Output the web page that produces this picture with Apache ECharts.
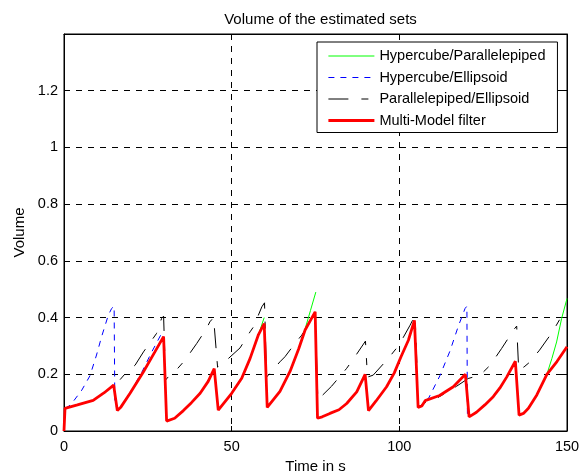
<!DOCTYPE html>
<html><head><meta charset="utf-8">
<script src="https://cdn.jsdelivr.net/npm/echarts@6/dist/echarts.min.js"></script>
<style>html,body{margin:0;padding:0;background:#fff}#c{width:580px;height:472px}</style>
</head><body><div id="c"></div>
<script>
// ---- data (time in s, volume) ----
const seriesNames = ['Hypercube/Parallelepiped', 'Hypercube/Ellipsoid', 'Parallelepiped/Ellipsoid', 'Multi-Model filter'];
const xTicks = [0, 50, 100, 150];
const yTicks = [0, 0.2, 0.4, 0.6, 0.8, 1, 1.2];

const tGreen = [55.5, 58, 59.7, null, 68.4, 70, 71.9, 73.5, 75.1, null, 141, 144, 145.5, 146.9, 148.4, 150];
const vGreen = [0.256, 0.34, 0.4, null, 0.238, 0.29, 0.36, 0.425, 0.49, null, 0.127, 0.2, 0.256, 0.314, 0.397, 0.467];

const tBlue = [0.3, 1.5, 2.3, 5.3, 7.75, 9.7, 11.2, 13.2, 14.2, 14.95, 15.15, 15.9, 17, 19.7, 23.2, 26, 29.1, 29.7, 30.6, null,
  105.6, 106.7, 107.7, 108.7, 112.1, 115.1, 117.6, 119.6, 120.15, 120.3, 120.8];
const vBlue = [0.08, 0.088, 0.097, 0.144, 0.195, 0.268, 0.332, 0.408, 0.432, 0.44, 0.105, 0.075, 0.088, 0.135, 0.207, 0.275, 0.344, 0.335, 0.035, null,
  0.083, 0.088, 0.107, 0.115, 0.195, 0.282, 0.37, 0.432, 0.44, 0.05, 0.05];

const tBlack = [0, 0.3, 8.7, 12, 14.8, 16.2, 19.2, 21.2, 23.7, 27.6, 29.1, 29.7, 30.3, 31.1, 32.6, 36.1, 39.6, 42.5, 43.5, 44.6, 45.8,
  48.5, 52.5, 55.5, 56.5, 59, 59.8, 60.4, 64.4, 65.9, 68.9, 70.9, 72, 74.9, 75.7, 79.8, 82.8, 84.3, 87.1, 89.9, 90.5, 92.2, 96.7,
  99.7, 100.7, 103.2, 104.7, 105.1, 105.7, 107.7, 111.1, 117.1, 120.5, 124.1, 127.1, 130.5, 133.2, 134.3, 135, 135.6, 137.2, 138.8,
  141.8, 145.7, 148, 149, 150];
const vBlack = [0, 0.08, 0.108, 0.135, 0.162, 0.174, 0.215, 0.232, 0.279, 0.344, 0.397, 0.405, 0.18, 0.191, 0.203, 0.25, 0.309, 0.361, 0.385, 0.4, 0.225,
  0.25, 0.293, 0.35, 0.367, 0.438, 0.452, 0.19, 0.244, 0.262, 0.309, 0.338, 0.36, 0.42, 0.11, 0.158, 0.2, 0.221, 0.268, 0.317, 0.19, 0.197, 0.256,
  0.3, 0.32, 0.373, 0.408, 0.415, 0.085, 0.1, 0.115, 0.158, 0.185, 0.197, 0.232, 0.291, 0.34, 0.36, 0.37, 0.215, 0.226, 0.242,
  0.285, 0.35, 0.397, 0.408, 0.42];

const tRed = [0, 0.3, 4, 8.7, 12, 14.8, 15.9, 17, 19.7, 23.7, 27.1, 29.7, 30.6, 33, 35.6, 38, 40.6, 43, 44.8, 46, 50, 53, 55.5, 58, 59.7,
  60.6, 64.4, 67.4, 70, 71.9, 74.9, 75.6, 77, 79.3, 82, 84.3, 87.3, 89.8, 90.8, 93, 96.2, 98.5, 100.5, 102.7, 104.5, 105.6, 106.7, 107.7,
  112, 116.1, 119.7, 120.8, 123, 125.5, 128, 130, 132, 134.6, 135.7, 137, 138.5, 141, 144, 147, 150];
const vRed = [0, 0.08, 0.092, 0.108, 0.135, 0.162, 0.072, 0.085, 0.133, 0.209, 0.279, 0.333, 0.035, 0.045, 0.072, 0.1, 0.133, 0.175, 0.22, 0.074, 0.133, 0.186, 0.256, 0.34, 0.379,
  0.083, 0.14, 0.21, 0.29, 0.356, 0.42, 0.045, 0.05, 0.062, 0.075, 0.097, 0.138, 0.2, 0.072, 0.105, 0.156, 0.205, 0.262, 0.32, 0.39, 0.083, 0.088, 0.107,
  0.125, 0.156, 0.2, 0.05, 0.066, 0.092, 0.121, 0.152, 0.19, 0.246, 0.056, 0.062, 0.08, 0.127, 0.2, 0.245, 0.297];

function pairs(ts, vs) { return ts.map((t, i) => (t === null || vs[i] === null) ? [NaN, NaN] : [t, vs[i]]); }

const FONT = "'Liberation Sans', Arial, Helvetica, sans-serif";
const chart = echarts.init(document.getElementById('c'), null, {renderer: 'canvas'});
const gridDash = {color: '#000', width: 1, type: [6, 6]};
const styles = [
  {color: '#00ff00', width: 1, type: 'solid'},
  {color: '#0000ff', width: 1, type: [6, 6]},
  {color: '#000000', width: 1, type: [20, 13, 7, 13]},
  {color: '#ff0000', width: 2.8, type: 'solid'}
];
const tData = [tGreen, tBlue, tBlack, tRed];
const vData = [vGreen, vBlue, vBlack, vRed];

const option = {
  animation: false,
  backgroundColor: '#fff',
  textStyle: {fontFamily: FONT, color: '#000'},
  title: {
    text: 'Volume of the estimated sets',
    left: 315.5, top: 7, textAlign: 'center',
    textStyle: {fontFamily: FONT, fontSize: 15, fontWeight: 'normal', color: '#000'}
  },
  grid: {left: 64, right: 13, top: 34, bottom: 41, show: true, borderColor: '#000', borderWidth: 1,
    backgroundColor: 'transparent', containLabel: false, outerBoundsMode: 'none'},
  legend: {
    data: seriesNames,
    orient: 'vertical',
    left: 317, top: 42,
    itemWidth: 46, itemHeight: 17, itemGap: 6.5,
    padding: [6.5, 12, 4.5, 10],
    borderColor: '#000', borderWidth: 1, backgroundColor: '#fff',
    itemStyle: {opacity: 0},
    lineStyle: {width: 'inherit', color: 'inherit', type: 'inherit'},
    textStyle: {fontFamily: FONT, fontSize: 14.5, color: '#000'},
    selectedMode: false
  },
  xAxis: [{
    type: 'value', min: xTicks[0], max: xTicks[xTicks.length - 1], interval: 50,
    name: 'Time in s', nameLocation: 'middle', nameGap: 24,
    nameTextStyle: {fontFamily: FONT, fontSize: 15, color: '#000'},
    axisLine: {show: true, onZero: false, lineStyle: {color: '#000', width: 1}},
    axisTick: {show: true, inside: true, length: 5, lineStyle: {color: '#000'}},
    axisLabel: {fontFamily: FONT, fontSize: 14.5, color: '#000', margin: 8},
    splitLine: {show: true, lineStyle: gridDash}
  }, {
    type: 'value', position: 'top', min: 0, max: 150, interval: 50,
    axisLine: {show: true, onZero: false, lineStyle: {color: '#000'}},
    axisTick: {show: true, inside: true, length: 5, lineStyle: {color: '#000'}},
    axisLabel: {show: false}, splitLine: {show: false}
  }],
  yAxis: [{
    type: 'value', min: 0, max: 1.4, interval: 0.2,
    name: 'Volume', nameLocation: 'middle', nameGap: 36, nameRotate: 90,
    nameTextStyle: {fontFamily: FONT, fontSize: 15, color: '#000'},
    axisLine: {show: true, onZero: false, lineStyle: {color: '#000', width: 1}},
    axisTick: {show: true, inside: true, length: 5, lineStyle: {color: '#000'}},
    axisLabel: {fontFamily: FONT, fontSize: 14.5, color: '#000', margin: 6,
      formatter: v => (yTicks.some(t => Math.abs(t - v) < 1e-6) ? String(Math.round(v * 10) / 10) : '')},
    splitLine: {show: true, lineStyle: gridDash}
  }, {
    type: 'value', position: 'right', min: 0, max: 1.4, interval: 0.2,
    axisLine: {show: true, onZero: false, lineStyle: {color: '#000'}},
    axisTick: {show: true, inside: true, length: 5, lineStyle: {color: '#000'}},
    axisLabel: {show: false}, splitLine: {show: false}
  }],
  series: seriesNames.map((n, i) => ({
    name: n, type: 'line', data: pairs(tData[i], vData[i]), symbol: 'none', connectNulls: false,
    lineStyle: styles[i], itemStyle: {color: styles[i].color}, silent: true, z: 2 + i
  }))
};
chart.setOption(option);
</script></body></html>
